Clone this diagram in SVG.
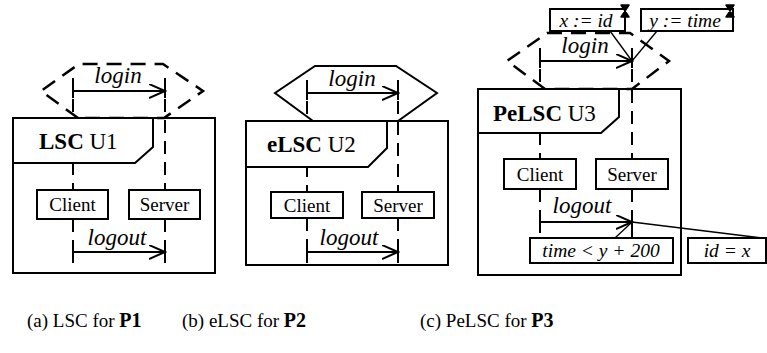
<svg xmlns="http://www.w3.org/2000/svg" width="767" height="353" viewBox="0 0 767 353">
<defs>
<style>
text{font-family:"Liberation Serif","Times New Roman",serif;fill:#000}
.fr{fill:#fff;stroke:#000;stroke-width:2}
.bx{fill:#fff;stroke:#000;stroke-width:2}
.ll{stroke:#000;stroke-width:2;stroke-dasharray:13 8;fill:none}
.hx{fill:none;stroke:#000;stroke-width:2.5;stroke-dasharray:15 9}
.hs{fill:none;stroke:#000;stroke-width:2}
.msg{stroke:#000;stroke-width:2;fill:none;marker-end:url(#arr)}
.tk{stroke:#000;stroke-width:2}
.ln{stroke:#000;stroke-width:1.3;fill:none}
.t{font-size:23px}
.n{font-size:19px;text-anchor:middle}
.l{font-size:23px;font-style:italic;text-anchor:middle}
.s{font-size:19.5px;font-style:italic;text-anchor:middle}
.c{font-size:19px}
.hg{fill:#000;stroke:#000;stroke-width:1.5;stroke-linejoin:round}
</style>
<marker id="arr" markerWidth="18" markerHeight="16" refX="16" refY="7" orient="auto" markerUnits="userSpaceOnUse">
<path d="M0,0 L16,7 L0,14" fill="none" stroke="#000" stroke-width="2"/>
</marker>
</defs>

<g id="frameA"><rect class="fr" x="13" y="118" width="202" height="155"/></g>
<g id="scenarioA"><polygon class="hx" points="78,118 41,91 79,64 163,64 203,91 164,118"/></g>
<g id="frameB"><rect class="fr" x="246" y="121" width="202" height="144"/></g>
<g id="scenarioB"><polygon class="hs" points="313,121 275,93 315,66 396,66 437,93 398,121"/></g>
<g id="frameC"><rect class="fr" x="478" y="89" width="203" height="186"/></g>
<g id="scenarioC"><polygon class="hx" points="545,89 507,61 547,33 630,33 669,61 632,89"/></g>

<g id="connectors">
<line class="ll" x1="73" y1="78" x2="73" y2="190"/>
<line class="ll" x1="165" y1="78" x2="165" y2="190"/>
<line class="ll" x1="73" y1="219" x2="73" y2="263"/>
<line class="ll" x1="165" y1="219" x2="165" y2="263"/>
<line class="tk" x1="73" y1="84" x2="73" y2="98"/>
<line class="tk" x1="165" y1="84" x2="165" y2="98"/>
<line class="tk" x1="73" y1="245" x2="73" y2="263"/>
<line class="tk" x1="165" y1="245" x2="165" y2="263"/>
<line class="msg" x1="73" y1="91" x2="165" y2="91"/>
<line class="msg" x1="73" y1="252" x2="165" y2="252"/>
<line class="ll" x1="307" y1="80" x2="307" y2="192"/>
<line class="ll" x1="398" y1="80" x2="398" y2="192"/>
<line class="ll" x1="307" y1="218" x2="307" y2="263"/>
<line class="ll" x1="398" y1="218" x2="398" y2="263"/>
<line class="tk" x1="307" y1="86" x2="307" y2="100"/>
<line class="tk" x1="398" y1="86" x2="398" y2="100"/>
<line class="tk" x1="307" y1="245" x2="307" y2="263"/>
<line class="tk" x1="398" y1="245" x2="398" y2="263"/>
<line class="msg" x1="307" y1="93" x2="398" y2="93"/>
<line class="msg" x1="307" y1="252" x2="398" y2="252"/>
<line class="ll" x1="540" y1="48" x2="540" y2="159"/>
<line class="ll" x1="632" y1="48" x2="632" y2="159"/>
<line class="ll" x1="540" y1="189" x2="540" y2="233"/>
<line class="ll" x1="632" y1="189" x2="632" y2="238"/>
<line class="tk" x1="540" y1="54" x2="540" y2="68"/>
<line class="tk" x1="632" y1="54" x2="632" y2="68"/>
<line class="tk" x1="540" y1="215" x2="540" y2="233"/>
<line class="tk" x1="632" y1="215" x2="632" y2="238"/>
<line class="msg" x1="540" y1="61" x2="632" y2="61"/>
<line class="msg" x1="540" y1="222" x2="632" y2="222"/>
<line class="ln" x1="610" y1="31" x2="632" y2="61"/>
<line class="ln" x1="657" y1="31" x2="632" y2="61"/>
<line class="ln" x1="615" y1="238" x2="631" y2="223"/>
<line class="ln" x1="632" y1="222" x2="762" y2="238"/>
</g>

<g id="titleA">
<path class="fr" d="M13,118 H153 V147 L135,163 H13 Z"/>
<text class="t" x="39" y="149"><tspan font-weight="bold">LSC</tspan> U1</text>
</g>
<g id="titleB">
<path class="fr" d="M246,121 H387 V148 L368,167 H246 Z"/>
<text class="t" x="267" y="152"><tspan font-weight="bold">eLSC</tspan> U2</text>
</g>
<g id="titleC">
<path class="fr" d="M478,89 H619 V117 L601,133 H478 Z"/>
<text class="t" x="493" y="121"><tspan font-weight="bold">PeLSC</tspan> U3</text>
</g>

<g id="clientA"><rect class="bx" x="37" y="190" width="71" height="29"/><text class="n" x="72.5" y="211">Client</text></g>
<g id="serverA"><rect class="bx" x="129" y="190" width="71" height="29"/><text class="n" x="164.5" y="211">Server</text></g>
<g id="clientB"><rect class="bx" x="271" y="192" width="72" height="26"/><text class="n" x="307" y="212">Client</text></g>
<g id="serverB"><rect class="bx" x="362" y="192" width="72" height="26"/><text class="n" x="398" y="212">Server</text></g>
<g id="clientC"><rect class="bx" x="504" y="159" width="72" height="30"/><text class="n" x="540" y="181">Client</text></g>
<g id="serverC"><rect class="bx" x="596" y="159" width="72" height="30"/><text class="n" x="632" y="181">Server</text></g>

<g id="labels">
<text class="l" x="118" y="83">login</text>
<text class="l" x="117" y="245">logout</text>
<text class="l" x="352" y="86">login</text>
<text class="l" x="349" y="245">logout</text>
<text class="l" x="585" y="53">login</text>
<text class="l" x="582" y="213">logout</text>
</g>

<g id="assignX">
<rect class="bx" x="550" y="9" width="75" height="22"/>
<text class="s" x="586" y="27">x := id</text>
<path class="hg" d="M621,5 H629 L621,17 H629 Z"/>
</g>
<g id="assignY">
<rect class="bx" x="641" y="9" width="92" height="22"/>
<text class="s" x="685" y="27">y := time</text>
<path class="hg" d="M726,5 H734 L726,17 H734 Z"/>
</g>
<g id="condTime">
<rect class="bx" x="530" y="238" width="143" height="25"/>
<text class="s" x="601" y="257">time &lt; y + 200</text>
</g>
<g id="condId">
<rect class="bx" x="688" y="238" width="78" height="25"/>
<text class="s" x="727" y="257">id = x</text>
</g>

<g id="captions">
<text class="c" x="27" y="327">(a) LSC for <tspan font-weight="bold" font-size="20">P1</tspan></text>
<text class="c" x="182" y="327">(b) eLSC for <tspan font-weight="bold" font-size="20">P2</tspan></text>
<text class="c" x="420" y="327">(c) PeLSC for <tspan font-weight="bold" font-size="20">P3</tspan></text>
</g>
</svg>
